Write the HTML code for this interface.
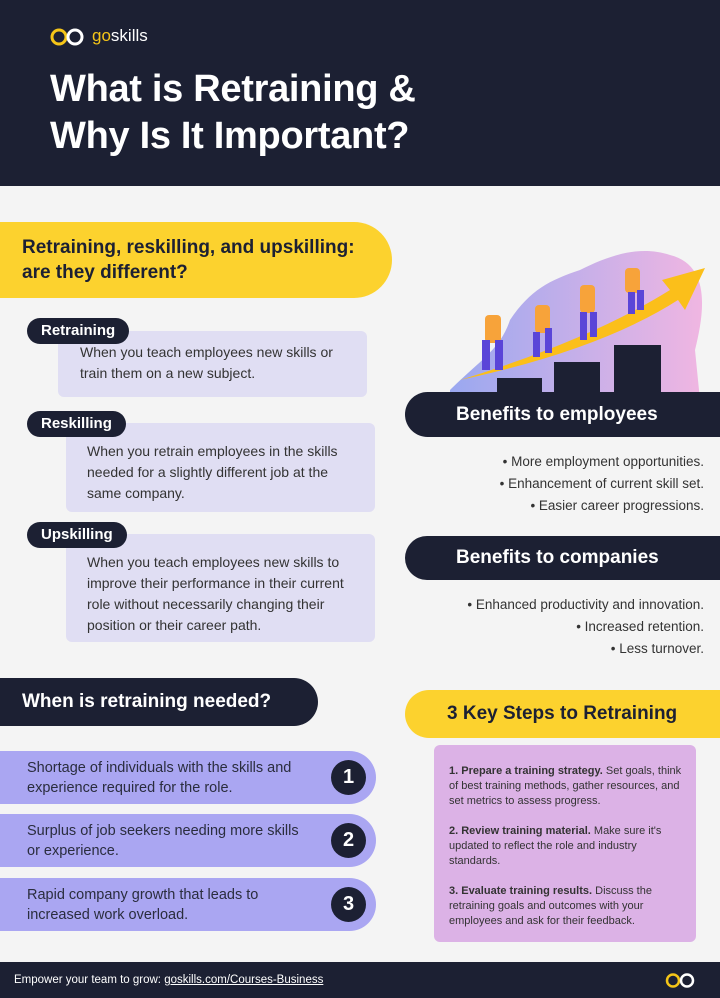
<!DOCTYPE html>
<html><head><meta charset="utf-8"><style>
*{margin:0;padding:0;box-sizing:border-box}
body{width:720px;height:998px;background:#f4f4f4;font-family:"Liberation Sans",sans-serif;position:relative;overflow:hidden;color:#2a2d3e}
.a{position:absolute}
.dark{background:#1c2033;color:#fff}
.lbl{position:absolute;background:#1c2033;color:#fff;font-weight:bold;font-size:15px;border-radius:13px;padding:0 14px;height:26px;line-height:26px;z-index:2}
.box{position:absolute;background:#e0def3;border-radius:6px;font-size:14px;line-height:21px;color:#333}
.bul{position:absolute;right:16px;text-align:right;font-size:13.5px;line-height:22px;color:#333}
.pill{position:absolute;left:0;width:376px;height:53px;background:#aaa6f2;border-radius:0 27px 27px 0;font-size:14.5px;line-height:20px;padding:7px 0 0 27px;color:#2a2d3e}
.num{position:absolute;left:331px;top:9px;width:35px;height:35px;border-radius:50%;background:#1c2033;color:#fff;font-weight:bold;font-size:20px;text-align:center;line-height:35px}
</style></head><body>
<div class="a dark" style="left:0;top:0;width:720px;height:186px"></div>
<svg class="a" style="left:49px;top:27px" width="36" height="20" viewBox="0 0 36 20"><circle cx="10" cy="10" r="7" fill="none" stroke="#f5c518" stroke-width="3"/><circle cx="26" cy="10" r="7" fill="none" stroke="#fff" stroke-width="3"/></svg>
<div class="a" style="left:92px;top:26px;font-size:17px;color:#fff"><span style="color:#f5c518">go</span>skills</div>
<div class="a" style="left:50px;top:66px;font-size:38px;font-weight:bold;color:#fff;line-height:47px;letter-spacing:-0.3px">What is Retraining &amp;<br>Why Is It Important?</div>

<div class="a" style="left:0;top:222px;width:392px;height:76px;background:#fcd22e;border-radius:0 38px 38px 0;padding:13px 0 0 22px;font-size:19px;font-weight:bold;line-height:25px;color:#1c2033">Retraining, reskilling, and upskilling:<br>are they different?</div>

<div class="lbl" style="left:27px;top:318px">Retraining</div>
<div class="box" style="left:58px;top:331px;width:309px;height:66px;padding:11px 0 0 22px">When you teach employees new skills or<br>train them on a new subject.</div>
<div class="lbl" style="left:27px;top:411px">Reskilling</div>
<div class="box" style="left:66px;top:423px;width:309px;height:89px;padding:18px 0 0 21px">When you retrain employees in the skills<br>needed for a slightly different job at the<br>same company.</div>
<div class="lbl" style="left:27px;top:522px">Upskilling</div>
<div class="box" style="left:66px;top:534px;width:309px;height:108px;padding:18px 0 0 21px">When you teach employees new skills to<br>improve their performance in their current<br>role without necessarily changing their<br>position or their career path.</div>

<svg class="a" style="left:440px;top:240px" width="280" height="160" viewBox="0 0 280 160">
<defs><linearGradient id="g" x1="0" x2="1"><stop offset="0" stop-color="#9aa8f0"/><stop offset="1" stop-color="#f0b6e2"/></linearGradient></defs>
<path d="M10 150 C40 120 60 110 70 80 C90 50 110 40 140 30 C170 15 200 5 230 15 C270 25 265 70 255 110 L260 160 L10 160Z" fill="url(#g)"/>
<path d="M20 140 Q150 100 230 50 L222 40 L265 28 L245 70 L238 60 Q160 110 20 140Z" fill="#fbbf1a"/>
<rect x="57" y="138" width="45" height="22" fill="#1c2033"/><rect x="114" y="122" width="46" height="38" fill="#1c2033"/><rect x="174" y="105" width="47" height="55" fill="#1c2033"/>
<g fill="#f7a33a"><rect x="45" y="75" width="16" height="28" rx="4"/><rect x="95" y="65" width="15" height="28" rx="4"/><rect x="140" y="45" width="15" height="28" rx="4"/><rect x="185" y="28" width="15" height="25" rx="4"/></g>
<g fill="#5a45d8"><rect x="42" y="100" width="8" height="30"/><rect x="55" y="100" width="8" height="30"/><rect x="93" y="92" width="7" height="25"/><rect x="105" y="88" width="7" height="25"/><rect x="140" y="72" width="7" height="28"/><rect x="150" y="72" width="7" height="25"/><rect x="188" y="52" width="7" height="22"/><rect x="197" y="50" width="7" height="20"/></g>
</svg>

<div class="a dark" style="left:405px;top:392px;width:315px;height:45px;border-radius:23px 0 0 23px;font-size:19px;font-weight:bold;line-height:45px;padding-left:51px">Benefits to employees</div>
<div class="bul" style="top:451px">• More employment opportunities.<br>• Enhancement of current skill set.<br>• Easier career progressions.</div>
<div class="a dark" style="left:405px;top:536px;width:315px;height:44px;border-radius:22px 0 0 22px;font-size:19px;font-weight:bold;line-height:44px;padding-left:51px">Benefits to companies</div>
<div class="bul" style="top:594px">• Enhanced productivity and innovation.<br>• Increased retention.<br>• Less turnover.</div>

<div class="a dark" style="left:0;top:678px;width:318px;height:48px;border-radius:0 24px 24px 0;font-size:19px;font-weight:bold;line-height:48px;padding-left:22px">When is retraining needed?</div>
<div class="pill" style="top:751px">Shortage of individuals with the skills and<br>experience required for the role.<div class="num">1</div></div>
<div class="pill" style="top:814px">Surplus of job seekers needing more skills<br>or experience.<div class="num">2</div></div>
<div class="pill" style="top:878px">Rapid company growth that leads to<br>increased work overload.<div class="num">3</div></div>

<div class="a" style="left:405px;top:690px;width:315px;height:48px;background:#fcd22e;border-radius:24px 0 0 24px;font-size:19px;font-weight:bold;line-height:48px;padding-left:42px;color:#1c2033">3 Key Steps to Retraining</div>
<div class="a" style="left:434px;top:745px;width:262px;height:197px;background:#dcb2e6;border-radius:6px;padding:19px 0 0 15px;font-size:11px;line-height:15px;color:#333">
<b>1. Prepare a training strategy.</b> Set goals, think<br>of best training methods, gather resources, and<br>set metrics to assess progress.<br><br>
<b>2. Review training material.</b> Make sure it's<br>updated to reflect the role and industry<br>standards.<br><br>
<b>3. Evaluate training results.</b> Discuss the<br>retraining goals and outcomes with your<br>employees and ask for their feedback.</div>

<div class="a dark" style="left:0;top:962px;width:720px;height:36px;font-size:11.5px;line-height:36px;padding-left:14px">Empower your team to grow: <span style="text-decoration:underline">goskills.com/Courses-Business</span></div>
<svg class="a" style="left:664px;top:972px" width="32" height="17" viewBox="0 0 32 17"><circle cx="9" cy="8.5" r="6" fill="none" stroke="#f5c518" stroke-width="2.5"/><circle cx="23" cy="8.5" r="6" fill="none" stroke="#fff" stroke-width="2.5"/></svg>
</body></html>
